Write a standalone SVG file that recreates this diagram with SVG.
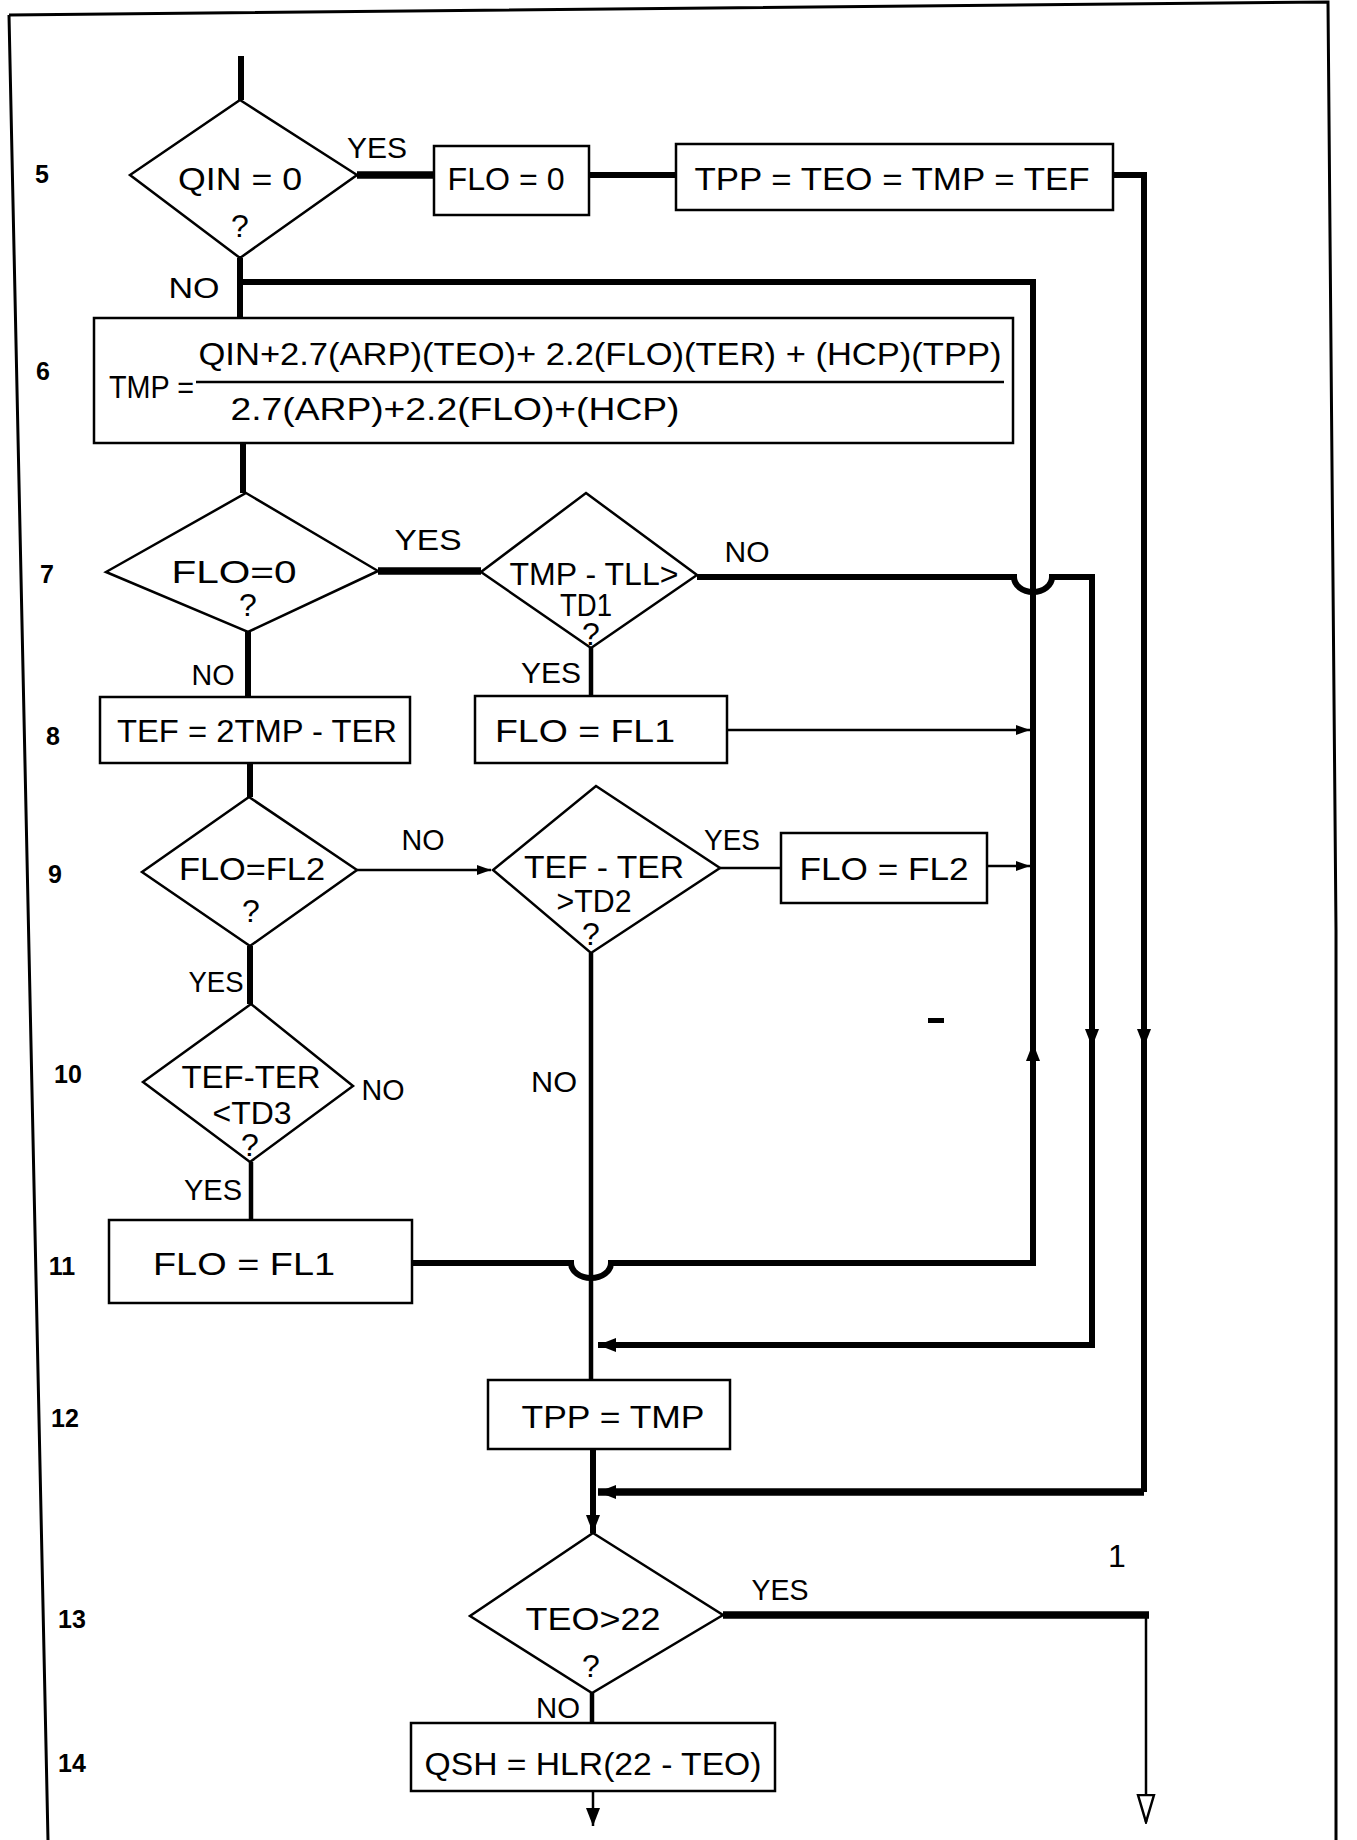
<svg xmlns="http://www.w3.org/2000/svg" width="1357" height="1840" viewBox="0 0 1357 1840">
<style>
.shape{fill:#fff;stroke:#000;stroke-width:2.5}
.t{font-family:"Liberation Sans","DejaVu Sans",Arial,sans-serif;font-size:32px;fill:#000;text-anchor:middle}
.lbl{font-size:30px}
.num{font-weight:bold;font-size:25px}
.w1{fill:none;stroke:#000;stroke-width:2.5}
.w2{fill:none;stroke:#000;stroke-width:4.5}
.w3{fill:none;stroke:#000;stroke-width:6}
.w4{fill:none;stroke:#000;stroke-width:7.5}
.frame{fill:none;stroke:#000;stroke-width:3}
</style>
<defs>
<marker id="ah" viewBox="0 0 18 14" markerWidth="18" markerHeight="14" refX="18" refY="7" orient="auto" markerUnits="userSpaceOnUse"><path d="M0,0 L18,7 L0,14 Z" fill="#000"/></marker>
<marker id="ahs" viewBox="0 0 14 10" markerWidth="14" markerHeight="10" refX="14" refY="5" orient="auto" markerUnits="userSpaceOnUse"><path d="M0,0 L14,5 L0,10 Z" fill="#000"/></marker>
<marker id="aho" viewBox="0 0 30 20" markerWidth="30" markerHeight="20" refX="28" refY="10" orient="auto" markerUnits="userSpaceOnUse"><path d="M1,2 L28,10 L1,18 Z" fill="#fff" stroke="#000" stroke-width="2.5"/></marker>
</defs>
<rect width="1357" height="1840" fill="#fff"/>
<g id="frame">
<path class="frame" d="M9,15 L1328,2 L1336,930 L1336,1840 M9,15 L48,1840"/>
<rect x="928" y="1018" width="16" height="5" fill="#000"/>
<text class="t" x="1117" y="1567" font-size="22">1</text>
</g>
<g id="row-numbers" class="t num">
<text x="42" y="183">5</text>
<text x="43" y="380">6</text>
<text x="47" y="583">7</text>
<text x="53" y="745">8</text>
<text x="55" y="883">9</text>
<text x="68" y="1083">10</text>
<text x="62" y="1275">11</text>
<text x="65" y="1427">12</text>
<text x="72" y="1628">13</text>
<text x="72" y="1772">14</text>
</g>
<g id="connectors">
<path class="w3" d="M241,56 V100"/>
<path class="w4" d="M357,175 H434"/>
<path class="w3" d="M589,175 H676"/>
<path class="w3" d="M1113,175 H1144 V1047" marker-end="url(#ah)"/>
<path class="w3" d="M1144,1040 V1492"/>
<path class="w4" d="M1144,1492 H598" marker-end="url(#ah)"/>
<path class="w3" d="M240,258 V318"/>
<path class="w3" d="M412,1263 H571 A20,15 0 0 0 611,1263 H1033 V1043" marker-end="url(#ah)"/>
<path class="w3" d="M1033,1050 V282 H241"/>
<path class="w3" d="M697,577 H1014 A19,15 0 0 0 1052,577 H1092 V1047" marker-end="url(#ah)"/>
<path class="w3" d="M1092,1040 V1345 H598" marker-end="url(#ah)"/>
<path class="w3" d="M243,443 V493"/>
<path class="w4" d="M378,571 H481"/>
<path class="w3" d="M248,632 V697"/>
<path class="w2" d="M591,648 V696"/>
<path class="w1" d="M727,730 H1030" marker-end="url(#ahs)"/>
<path class="w3" d="M250,763 V797"/>
<path class="w1" d="M357,870 H491" marker-end="url(#ahs)"/>
<path class="w1" d="M720,868 H781"/>
<path class="w1" d="M987,866 H1030" marker-end="url(#ahs)"/>
<path class="w3" d="M250,946 V1004"/>
<path class="w2" d="M251,1162 V1220"/>
<path class="w2" d="M591,953 V1380"/>
<path class="w3" d="M593,1449 V1533" marker-end="url(#ah)"/>
<path class="w4" d="M723,1615 H1149"/>
<path class="w1" d="M1146,1612 V1822" marker-end="url(#aho)"/>
<path class="w2" d="M592,1693 V1723"/>
<path class="w1" d="M593,1791 V1826" marker-end="url(#ah)"/>
<g class="t lbl">
<text x="377" y="158" textLength="60" lengthAdjust="spacingAndGlyphs">YES</text>
<text x="194" y="298" textLength="51" lengthAdjust="spacingAndGlyphs">NO</text>
<text x="428" y="550" textLength="67" lengthAdjust="spacingAndGlyphs">YES</text>
<text x="747" y="562" textLength="45" lengthAdjust="spacingAndGlyphs">NO</text>
<text x="213" y="685" textLength="43" lengthAdjust="spacingAndGlyphs">NO</text>
<text x="551" y="683" textLength="60" lengthAdjust="spacingAndGlyphs">YES</text>
<text x="423" y="850" textLength="43" lengthAdjust="spacingAndGlyphs">NO</text>
<text x="732" y="850" textLength="56" lengthAdjust="spacingAndGlyphs">YES</text>
<text x="216" y="992" textLength="55" lengthAdjust="spacingAndGlyphs">YES</text>
<text x="383" y="1100" textLength="43" lengthAdjust="spacingAndGlyphs">NO</text>
<text x="213" y="1200" textLength="58" lengthAdjust="spacingAndGlyphs">YES</text>
<text x="554" y="1092" textLength="46" lengthAdjust="spacingAndGlyphs">NO</text>
<text x="780" y="1600" textLength="57" lengthAdjust="spacingAndGlyphs">YES</text>
<text x="558" y="1718" textLength="44" lengthAdjust="spacingAndGlyphs">NO</text>
</g>
</g>
<g id="n5">
<polygon class="shape" points="240,100 357,175 240,258 130,175"/>
<text class="t" x="240" y="190" textLength="124" lengthAdjust="spacingAndGlyphs">QIN = 0</text>
<text class="t" x="240" y="237" font-size="29">?</text>
</g>
<g id="n5a">
<rect class="shape" x="434" y="146" width="155" height="69"/>
<text class="t" x="506" y="190" textLength="117" lengthAdjust="spacingAndGlyphs">FLO = 0</text>
</g>
<g id="n5b">
<rect class="shape" x="676" y="144" width="437" height="66"/>
<text class="t" x="892" y="190" textLength="395" lengthAdjust="spacingAndGlyphs">TPP = TEO = TMP = TEF</text>
</g>
<g id="n6">
<rect class="shape" x="94" y="318" width="919" height="125"/>
<text class="t" x="109" y="398" style="text-anchor:start" textLength="85" lengthAdjust="spacingAndGlyphs">TMP =</text>
<text class="t" x="600" y="365" font-size="28" textLength="803" lengthAdjust="spacingAndGlyphs">QIN+2.7(ARP)(TEO)+ 2.2(FLO)(TER) + (HCP)(TPP)</text>
<path d="M196,382 H1004" stroke="#000" stroke-width="2.5"/>
<text class="t" x="455" y="420" font-size="30" textLength="449" lengthAdjust="spacingAndGlyphs">2.7(ARP)+2.2(FLO)+(HCP)</text>
</g>
<g id="n7">
<polygon class="shape" points="246,493 378,571 248,632 106,572"/>
<text class="t" x="234" y="583" font-size="30" textLength="125" lengthAdjust="spacingAndGlyphs">FLO=0</text>
<text class="t" x="248" y="616" font-size="20">?</text>
</g>
<g id="n7a">
<polygon class="shape" points="586,493 697,575 591,648 481,572"/>
<text class="t" x="594" y="585" textLength="169" lengthAdjust="spacingAndGlyphs">TMP - TLL&gt;</text>
<text class="t" x="586" y="616" font-size="22" textLength="52" lengthAdjust="spacingAndGlyphs">TD1</text>
<text class="t" x="591" y="645" font-size="18">?</text>
</g>
<g id="n8">
<rect class="shape" x="100" y="697" width="310" height="66"/>
<text class="t" x="257" y="742" font-size="34" textLength="280" lengthAdjust="spacingAndGlyphs">TEF = 2TMP - TER</text>
</g>
<g id="n8a">
<rect class="shape" x="475" y="696" width="252" height="67"/>
<text class="t" x="585" y="742" font-size="33" textLength="180" lengthAdjust="spacingAndGlyphs">FLO = FL1</text>
</g>
<g id="n9">
<polygon class="shape" points="249,797 357,870 250,946 142,872"/>
<text class="t" x="252" y="880" textLength="146" lengthAdjust="spacingAndGlyphs">FLO=FL2</text>
<text class="t" x="251" y="922" font-size="29">?</text>
</g>
<g id="n9a">
<polygon class="shape" points="596,786 720,868 591,953 493,870"/>
<text class="t" x="604" y="878" font-size="33" textLength="160" lengthAdjust="spacingAndGlyphs">TEF - TER</text>
<text class="t" x="594" y="912" font-size="26" textLength="75" lengthAdjust="spacingAndGlyphs">&gt;TD2</text>
<text class="t" x="591" y="945" font-size="18">?</text>
</g>
<g id="n9b">
<rect class="shape" x="781" y="833" width="206" height="70"/>
<text class="t" x="884" y="880" font-size="34" textLength="169" lengthAdjust="spacingAndGlyphs">FLO = FL2</text>
</g>
<g id="n10">
<polygon class="shape" points="251,1004 353,1086 250,1162 143,1082"/>
<text class="t" x="251" y="1088" font-size="28" textLength="139" lengthAdjust="spacingAndGlyphs">TEF-TER</text>
<text class="t" x="252" y="1124" font-size="29" textLength="79" lengthAdjust="spacingAndGlyphs">&lt;TD3</text>
<text class="t" x="250" y="1156" font-size="23">?</text>
</g>
<g id="n11">
<rect class="shape" x="109" y="1220" width="303" height="83"/>
<text class="t" x="244" y="1275" textLength="182" lengthAdjust="spacingAndGlyphs">FLO = FL1</text>
</g>
<g id="n12">
<rect class="shape" x="488" y="1380" width="242" height="69"/>
<text class="t" x="613" y="1428" textLength="183" lengthAdjust="spacingAndGlyphs">TPP = TMP</text>
</g>
<g id="n13">
<polygon class="shape" points="593,1533 723,1615 592,1693 470,1616"/>
<text class="t" x="593" y="1630" textLength="135" lengthAdjust="spacingAndGlyphs">TEO&gt;22</text>
<text class="t" x="591" y="1677" font-size="29">?</text>
</g>
<g id="n14">
<rect class="shape" x="411" y="1723" width="364" height="68"/>
<text class="t" x="593" y="1775" font-size="34" textLength="337" lengthAdjust="spacingAndGlyphs">QSH = HLR(22 - TEO)</text>
</g>
</svg>
